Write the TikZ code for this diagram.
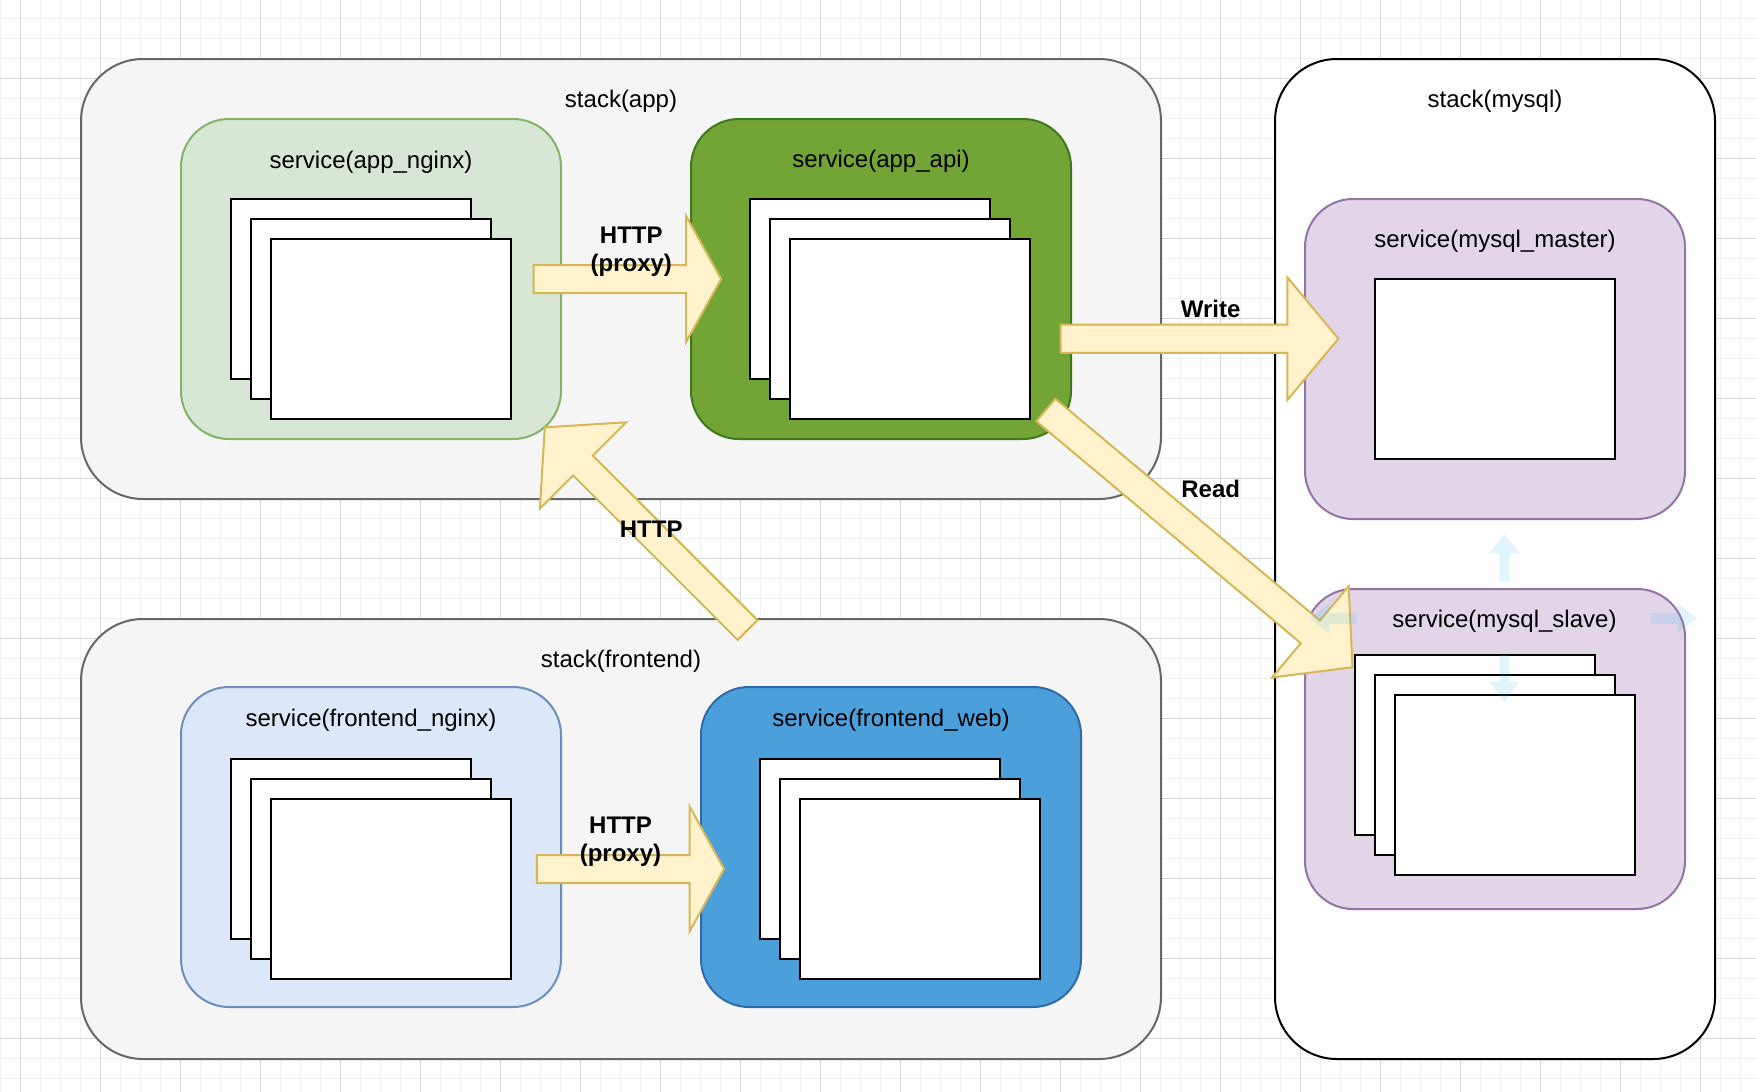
\documentclass[tikz,border=0pt]{standalone}
\usepackage{fontspec}
\setmainfont{Liberation Sans}
\usetikzlibrary{calc}
\definecolor{gridminor}{HTML}{F1F1F1}
\definecolor{gridmajor}{HTML}{D6D6D6}
\definecolor{stackfill}{HTML}{F5F5F5}
\definecolor{stackline}{HTML}{666666}
\definecolor{ngfill}{HTML}{D8E7D5}
\definecolor{ngline}{HTML}{82B366}
\definecolor{apifill}{HTML}{72A536}
\definecolor{apiline}{HTML}{3C7A1C}
\definecolor{fnfill}{HTML}{DCE7F9}
\definecolor{fnline}{HTML}{6C8EBF}
\definecolor{webfill}{HTML}{4BA0DC}
\definecolor{webline}{HTML}{2E6BA8}
\definecolor{dbfill}{HTML}{E1D5E7}
\definecolor{dbline}{HTML}{9673A6}
\definecolor{arrfill}{HTML}{FFF2CC}
\definecolor{arrline}{HTML}{D6B656}
\definecolor{hoverblue}{HTML}{29B6F2}
\newcommand\myflexarrow[6][]{%
  \coordinate (fa-h) at ($(#3)!#6!(#2)$);
  \draw[#1] ($(#2)!#4!90:(#3)$) -- ($(fa-h)!#4!90:(#3)$) -- ($(fa-h)!#5!90:(#3)$)
    -- (#3) -- ($(fa-h)!#5!-90:(#3)$) -- ($(fa-h)!#4!-90:(#3)$)
    -- ($(#2)!#4!-90:(#3)$) -- cycle;}
\tikzset{
  stackbox/.style={draw=stackline, fill=stackfill, line width=2pt, rounded corners=62pt,
    anchor=north west, outer sep=0pt, inner sep=0pt, minimum width=1080pt, minimum height=440pt},
  svcbox/.style={line width=2pt, rounded corners=48pt, anchor=north west, outer sep=0pt,
    inner sep=0pt, minimum width=380pt, minimum height=320pt},
  taskbox/.style={draw=black, fill=white, line width=2.2pt, anchor=north west, outer sep=0pt,
    inner sep=0pt, minimum width=240pt, minimum height=180pt},
  lbl/.style={font=\fontsize{24pt}{28pt}\selectfont, anchor=base, inner sep=0pt, text=black},
  blbl/.style={font=\fontsize{24pt}{28pt}\selectfont\bfseries, inner sep=0pt, text=black, align=center},
  fatarrow/.style={fill=arrfill, draw=arrline, line width=2pt, line join=miter},
  hoverarrow/.style={fill=hoverblue, fill opacity=0.14, draw=none}
}
\begin{document}
\begin{tikzpicture}[x=1pt,y=-1pt]
\useasboundingbox (0,0) rectangle (1756,1092);
\fill[white] (0,0) rectangle (1756,1092);
% grid
\foreach \gx in {0,20,...,1740} \draw[gridminor, line width=1pt] (\gx,0) -- (\gx,1092);
\foreach \gy in {18,38,...,1090} \draw[gridminor, line width=1pt] (0,\gy) -- (1756,\gy);
\foreach \gx in {20,100,...,1740} \draw[gridmajor, line width=1pt] (\gx,0) -- (\gx,1092);
\foreach \gy in {78,158,...,1090} \draw[gridmajor, line width=1pt] (0,\gy) -- (1756,\gy);

% stacks
\node[stackbox] (stackapp) at (81,59) {};
\node[stackbox] (stackfe) at (81,619) {};
\node[stackbox, draw=black, fill=white, minimum width=440pt, minimum height=1000pt] (stackdb) at (1275,59) {};

% services
\node[svcbox, draw=ngline, fill=ngfill] (appnginx) at (181,119) {};
\node[svcbox, draw=apiline, fill=apifill] (appapi) at (691,119) {};
\node[svcbox, draw=fnline, fill=fnfill] (fenginx) at (181,687) {};
\node[svcbox, draw=webline, fill=webfill] (feweb) at (701,687) {};
\node[svcbox, draw=dbline, fill=dbfill] (master) at (1305,199) {};
\node[svcbox, draw=dbline, fill=dbfill] (slave) at (1305,589) {};

% tasks
\node[taskbox] (an1) at (231,199) {};
\node[taskbox] (an2) at (251,219) {};
\node[taskbox] (an3) at (271,239) {};
\node[taskbox] (aa1) at (750,199) {};
\node[taskbox] (aa2) at (770,219) {};
\node[taskbox] (aa3) at (790,239) {};
\node[taskbox] (fn1) at (231,759) {};
\node[taskbox] (fn2) at (251,779) {};
\node[taskbox] (fn3) at (271,799) {};
\node[taskbox] (fw1) at (760,759) {};
\node[taskbox] (fw2) at (780,779) {};
\node[taskbox] (fw3) at (800,799) {};
\node[taskbox] (ms1) at (1375,279) {};
\node[taskbox] (sl1) at (1355,655) {};
\node[taskbox] (sl2) at (1375,675) {};
\node[taskbox] (sl3) at (1395,695) {};

% box labels
\node[lbl] (lstackapp) at (621,107.7) {stack(app)};
\node[lbl] (lappnginx) at (371,168.3) {service(app\_nginx)};
\node[lbl] (lappapi) at (881,167.7) {service(app\_api)};
\node[lbl] (lstackdb) at (1495,107.3) {stack(mysql)};
\node[lbl] (lmaster) at (1495,247) {service(mysql\_master)};
\node[lbl] (lslave) at (1504.5,627.5) {service(mysql\_slave)};
\node[lbl] (lstackfe) at (621,667.3) {stack(frontend)};
\node[lbl] (lfenginx) at (371,726.7) {service(frontend\_nginx)};
\node[lbl] (lfeweb) at (891,726.7) {service(frontend\_web)};

% arrow end points
\coordinate (pa1) at (533.7,279);
\coordinate (pa2) at (721.2,279);
\coordinate (pb1) at (536.8,869);
\coordinate (pb2) at (724.1,869);
\coordinate (wa1) at (1060.5,338.7);
\coordinate (wa2) at (1338.4,338.7);
\coordinate (ha1) at (747.6,630);
\coordinate (ha2) at (544.8,427.3);
\coordinate (ra1) at (1045.8,410);
\coordinate (ra2) at (1352.5,667.2);

\myflexarrow[fatarrow]{pa1}{pa2}{14pt}{62.8pt}{35pt}
\myflexarrow[fatarrow]{pb1}{pb2}{14pt}{62.5pt}{34.5pt}
\myflexarrow[fatarrow]{wa1}{wa2}{14.2pt}{61.3pt}{51pt}
\myflexarrow[fatarrow]{ha1}{ha2}{14pt}{61pt}{54pt}
\myflexarrow[fatarrow]{ra1}{ra2}{14.8pt}{59.6pt}{55pt}

% arrow labels
\node[blbl] (lhttp1) at (631.3,251.9) {HTTP\\(proxy)};
\node[blbl] (lhttp2) at (620.5,841.9) {HTTP\\(proxy)};
\node[lbl, font=\fontsize{24pt}{28pt}\selectfont\bfseries] (lwrite) at (1210.7,317.7) {Write};
\node[lbl, font=\fontsize{24pt}{28pt}\selectfont\bfseries] (lread) at (1210.7,497.7) {Read};
\node[lbl, font=\fontsize{24pt}{28pt}\selectfont\bfseries] (lhttp3) at (651.2,537.3) {HTTP};

% faint hover arrows around mysql_slave
\coordinate (hu1) at (1504.3,581);
\coordinate (hu2) at (1504.3,534);
\coordinate (hd1) at (1504.3,655);
\coordinate (hd2) at (1504.3,701.7);
\coordinate (hl1) at (1356.7,618.3);
\coordinate (hl2) at (1310,618.3);
\coordinate (hr1) at (1651,618.3);
\coordinate (hr2) at (1697.3,618.3);
\myflexarrow[hoverarrow]{hu1}{hu2}{5pt}{15pt}{19pt}
\myflexarrow[hoverarrow]{hd1}{hd2}{5pt}{15pt}{20pt}
\myflexarrow[hoverarrow]{hl1}{hl2}{5.5pt}{15pt}{19pt}
\myflexarrow[hoverarrow]{hr1}{hr2}{5.5pt}{15pt}{20pt}
\end{tikzpicture}
\end{document}
